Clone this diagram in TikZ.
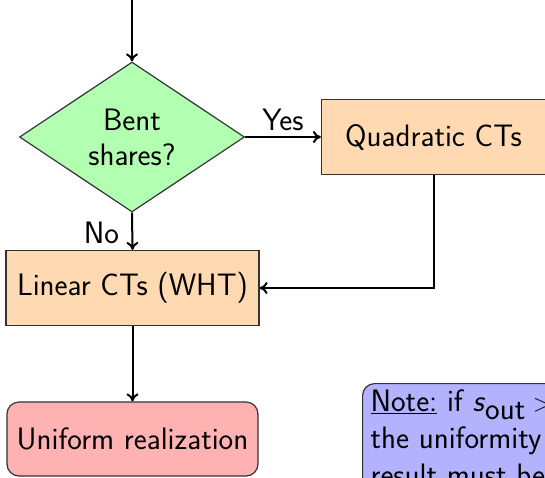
\documentclass[tikz,border=0pt]{standalone}
\usetikzlibrary{shapes.geometric,arrows.meta}
\renewcommand{\familydefault}{\sfdefault}
\begin{document}
\begin{tikzpicture}[x=1pt,y=-1pt,
  every node/.style={font=\fontsize{31}{37}\selectfont\sffamily},
  boxA/.style={draw=black!80,line width=1.2pt,fill=orange!30,inner sep=0pt,minimum width=253pt,minimum height=75pt},
  decis/.style={diamond,draw=black!80,line width=1.2pt,fill=green!30,inner sep=0pt,minimum width=225pt,minimum height=150pt,align=center},
  endbox/.style={draw=black!80,line width=1.2pt,fill=red!30,rounded corners=12pt,inner sep=0pt,minimum width=251pt,minimum height=74pt},
  notebox/.style={draw=black!80,line width=1.2pt,fill=blue!30,rounded corners=12pt,inner sep=8pt,align=left,anchor=north west},
  conn/.style={line width=2pt,-{To[length=8pt,width=12pt]}},
  lbl/.style={font=\fontsize{31}{37}\selectfont\sffamily}]
\useasboundingbox (0,0) rectangle (545,477);
\clip (0,0) rectangle (545,477);
\coordinate (start) at (132,0);
\node[decis] (bent) at (132,137) {Bent\\[-2pt]shares?};
\node[boxA,minimum width=224pt] (quad) at (433.5,137) {Quadratic CTs};
\node[boxA] (lin) at (132.5,288) {Linear CTs (WHT)};
\node[endbox] (uni) at (132.5,439) {Uniform realization};
\node[notebox,inner ysep=6pt] (note) at (362,383) {\underline{Note:} if \textit{s}$_{\textsf{out}}>$ \\ the uniformity \\ result must be};
\draw[conn] (start) -- (bent.north);
\draw[conn] (bent.east) -- node[lbl,above,pos=0.5,yshift=2pt] {Yes} (quad.west);
\draw[conn] (bent.south) -- node[lbl,anchor=east,pos=0.55,xshift=-9pt] {No} (lin.north);
\draw[conn] (quad.south) |- (lin.east);
\draw[conn] (lin.south) -- (uni.north);
\end{tikzpicture}
\end{document}
